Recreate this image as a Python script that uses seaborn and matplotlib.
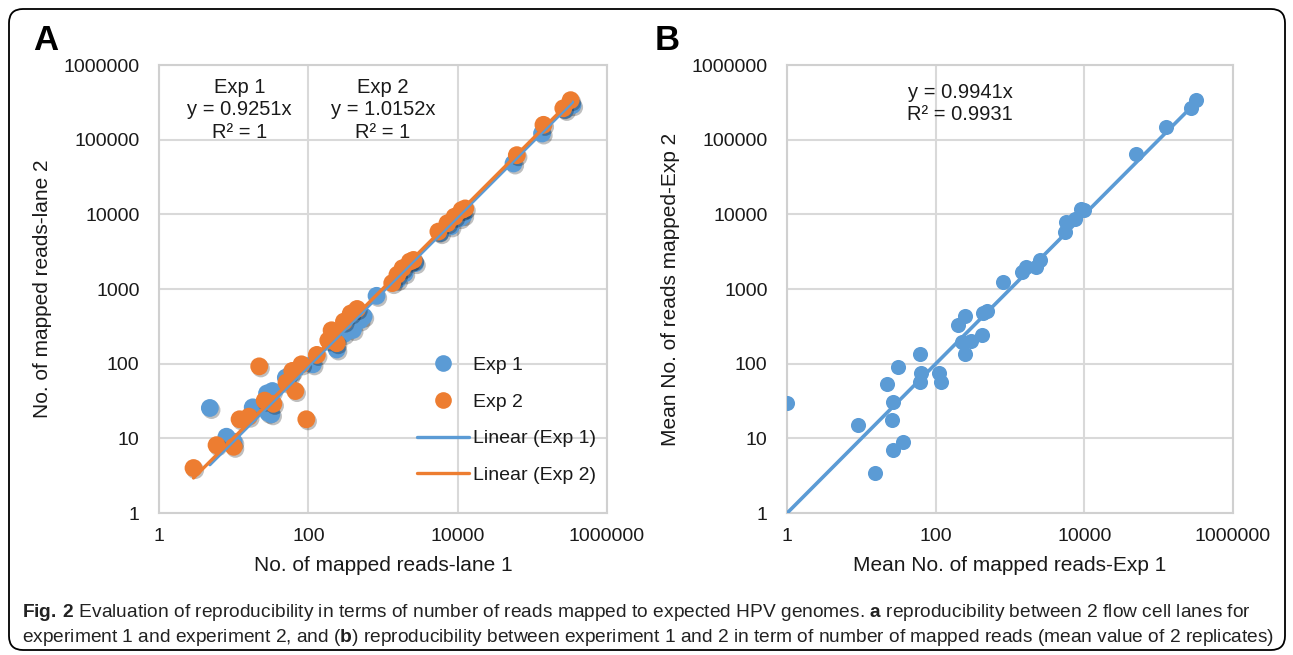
import numpy as np
import pandas as pd
import matplotlib
matplotlib.use("Agg")
import matplotlib.pyplot as plt
import seaborn as sns
from matplotlib import font_manager, patheffects
from matplotlib.patches import FancyBboxPatch
from matplotlib.lines import Line2D

# ---------------- data ----------------
exp1_lane1 = [4.8, 8.0, 10, 18, 28, 29, 32, 33, 50, 57, 115, 228, 240, 300, 395, 490, 550, 820,
              1560, 1950, 2700, 5860, 8100, 10700, 12000, 56000, 135000, 275000, 345000]
exp1_lane2 = [25.5, 10.5, 9, 26, 40, 22, 21, 43, 65, 71, 98, 188, 155, 250, 283, 380, 430, 810,
              1320, 1620, 2220, 5600, 6900, 8900, 9800, 48000, 121000, 250000, 290000]
exp2_lane1 = [2.9, 5.9, 10, 12, 16, 22, 26, 34, 51, 67, 61, 81, 94, 130, 185, 205, 240, 300, 370, 450,
              1330, 1560, 1830, 2290, 2560, 5520, 7300, 9100, 11300, 12600, 62000, 141000, 260000, 326000]
exp2_lane2 = [4.0, 8.1, 7.7, 18, 19.5, 92, 32, 29, 56, 43, 80, 98, 18, 131, 205, 280, 188, 366, 470, 540,
              1200, 1550, 1900, 2330, 2450, 5870, 7600, 9300, 11400, 12000, 62000, 158000, 263000, 338000]
slope_exp1 = 0.9251
slope_exp2 = 1.0152

mean_exp1 = [1, 8.9, 15.5, 22, 25.7, 27, 26.5, 36.8, 31.6, 61.6, 63, 62, 112, 118, 201, 247, 224, 247,
             303, 414, 437, 493, 811, 1470, 1660, 2270, 2510, 5460, 5740, 7430, 9120, 10000,
             50000, 124000, 273000, 318000]
mean_exp2 = [30, 15, 3.4, 54, 17.4, 31, 6.9, 9, 90, 134, 76, 56, 74, 57, 332, 437, 198, 134,
             203, 245, 470, 512, 1233, 1670, 1960, 1960, 2450, 5760, 7900, 8700, 11900, 11300,
             65000, 148000, 263000, 338000]
slope_b = 0.9941
r2_b = 0.9931

y_ticks = [1, 10, 100, 1000, 10000, 100000, 1000000]
x_ticks = [1, 100, 10000, 1000000]
series_names = ["Exp 1", "Exp 2"]

BLUE = "#5B9BD5"
ORANGE = "#ED7D31"
GRID = "#d9d9d9"
TXT = "#1a1a1a"

# ---------------- style ----------------
sns.set_style("white")
names = {f.name for f in font_manager.fontManager.ttflist}
main_font = "Liberation Sans" if "Liberation Sans" in names else "DejaVu Sans"
cap_font = "Liberation Sans Narrow" if "Liberation Sans Narrow" in names else main_font
plt.rcParams["font.family"] = [main_font, "DejaVu Sans"]
plt.rcParams["mathtext.fontset"] = "custom"
plt.rcParams["mathtext.rm"] = cap_font
plt.rcParams["mathtext.bf"] = cap_font + ":bold"

W, H = 1293, 655
fig = plt.figure(figsize=(W / 100, H / 100), dpi=100)
fig.patch.set_facecolor("white")


def px_axes(left, top, right, bottom):
    return fig.add_axes([left / W, 1 - bottom / H, (right - left) / W, (bottom - top) / H])


axA = px_axes(159, 65, 607, 513)
axB = px_axes(787, 65, 1233, 513)


def style_axis(ax):
    ax.set_xscale("log")
    ax.set_yscale("log")
    ax.set_xlim(1, 1e6)
    ax.set_ylim(1, 1e6)
    ax.set_xticks(x_ticks)
    ax.set_xticklabels([str(v) for v in x_ticks])
    ax.set_yticks(y_ticks)
    ax.set_yticklabels([str(v) for v in y_ticks])
    ax.minorticks_off()
    ax.tick_params(axis="both", length=0, labelsize=14, colors=TXT)
    ax.tick_params(axis="x", pad=11)
    ax.tick_params(axis="y", pad=14)
    ax.grid(True, color=GRID, linewidth=1.5)
    ax.set_axisbelow(True)
    for s in ax.spines.values():
        s.set_visible(True)
        s.set_color("#d0d0d0")
        s.set_linewidth(1.5)


# ---------------- panel A ----------------
dfA = pd.concat([
    pd.DataFrame({"lane1": exp1_lane1, "lane2": exp1_lane2, "exp": series_names[0]}),
    pd.DataFrame({"lane1": exp2_lane1, "lane2": exp2_lane2, "exp": series_names[1]}),
])
shadow = [patheffects.SimplePatchShadow(offset=(1.2, -1.5), shadow_rgbFace="black", alpha=0.25),
          patheffects.Normal()]
for name, col in zip(series_names, [BLUE, ORANGE]):
    sub = dfA[dfA["exp"] == name]
    sns.scatterplot(data=sub, x="lane1", y="lane2", color=col, s=165, linewidth=0,
                    ax=axA, legend=False, zorder=3, path_effects=shadow)

for x, y, slope, col in [(exp1_lane1, exp1_lane2, slope_exp1, BLUE),
                         (exp2_lane1, exp2_lane2, slope_exp2, ORANGE)]:
    xs = np.array([min(x), max(x)])
    sns.lineplot(x=xs, y=slope * xs, color=col, linewidth=2.4, ax=axA, zorder=4)

style_axis(axA)
axA.set_xlabel("No. of mapped reads-lane 1", fontsize=15, color=TXT, labelpad=8)
axA.set_ylabel("No. of mapped reads-lane 2", fontsize=15, color=TXT, labelpad=8)

axA.text(12, 10 ** 5.40, f"Exp 1\ny = {slope_exp1}x\nR² = 1", ha="center", va="center",
         fontsize=14.5, color=TXT, linespacing=1.25, zorder=5)
axA.text(1000, 10 ** 5.40, f"Exp 2\ny = {slope_exp2}x\nR² = 1", ha="center", va="center",
         fontsize=14.5, color=TXT, linespacing=1.25, zorder=5)

handles = [
    Line2D([], [], marker="o", ls="none", color=BLUE, markersize=12, markeredgewidth=0),
    Line2D([], [], marker="o", ls="none", color=ORANGE, markersize=12, markeredgewidth=0),
    Line2D([], [], color=BLUE, lw=2.4),
    Line2D([], [], color=ORANGE, lw=2.4),
]
labels = ["Exp 1", "Exp 2", "Linear (Exp 1)", "Linear (Exp 2)"]
leg = axA.legend(handles, labels, loc="center left", bbox_to_anchor=(0.575, 0.207),
                 frameon=False, fontsize=14, handlelength=2.7, handletextpad=0.2,
                 labelspacing=0.98, borderpad=0, borderaxespad=0)
for t in leg.get_texts():
    t.set_color(TXT)

# ---------------- panel B ----------------
dfB = pd.DataFrame({"exp1": mean_exp1, "exp2": mean_exp2})
sns.scatterplot(data=dfB, x="exp1", y="exp2", color=BLUE, s=118, linewidth=0, ax=axB,
                legend=False, zorder=3)
xb = np.array([min(mean_exp1), max(mean_exp1)])
sns.lineplot(x=xb, y=slope_b * xb, color=BLUE, linewidth=2.6, ax=axB, zorder=4)
style_axis(axB)
axB.set_xlabel("Mean No. of mapped reads-Exp 1", fontsize=15, color=TXT, labelpad=8)
axB.set_ylabel("Mean No. of reads mapped-Exp 2", fontsize=15, color=TXT, labelpad=8)
axB.text(213, 10 ** 5.49, f"y = {slope_b}x\nR² = {r2_b}", ha="center", va="center",
         fontsize=14.5, color=TXT, linespacing=1.2, zorder=5)

# ---------------- panel letters ----------------
fig.text(33 / W, 1 - 50 / H, "A", fontsize=25, fontweight="bold", color="black", va="baseline")
fig.text(655 / W, 1 - 50 / H, "B", fontsize=25, fontweight="bold", color="black", va="baseline")

# ---------------- caption ----------------
cap1 = (r"$\mathbf{Fig.\,2}$ Evaluation of reproducibility in terms of number of reads mapped to "
        r"expected HPV genomes. $\mathbf{a}$ reproducibility between 2 flow cell lanes for")
cap2 = (r"experiment 1 and experiment 2, and ($\mathbf{b}$) reproducibility between experiment 1 "
        r"and 2 in term of number of mapped reads (mean value of 2 replicates)")
t1 = fig.text(22 / W, 1 - 617 / H, cap1, fontsize=12, family=cap_font, color="#222222", va="baseline")
t2 = fig.text(22 / W, 1 - 642 / H, cap2, fontsize=12, family=cap_font, color="#222222", va="baseline")
renderer = fig.canvas.get_renderer()
w2 = t2.get_window_extent(renderer).width
fs = 12 * 1253 / w2
t1.set_fontsize(fs)
t2.set_fontsize(fs)

# ---------------- rounded border ----------------
border = FancyBboxPatch((9, 5), 1276, 641, boxstyle="round,pad=0,rounding_size=14",
                        transform=None, fill=False, edgecolor="black", linewidth=1.3)
fig.patches.append(border)

fig.savefig("out.png", dpi=100, facecolor="white")
